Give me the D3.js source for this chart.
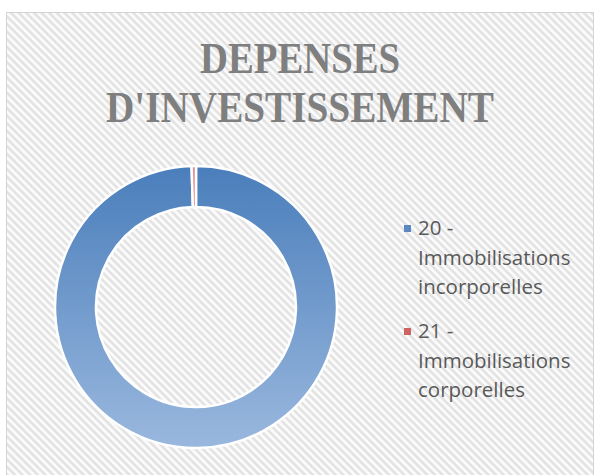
<!DOCTYPE html>
<html><head><meta charset="utf-8">
<script src="https://cdn.jsdelivr.net/npm/d3@7"></script>
<style>html,body{margin:0;padding:0;background:#fff;}svg{display:block;}</style>
</head><body>
<script>
const titleLines = ["DEPENSES", "D'INVESTISSEMENT"];
const categories = ["20 - Immobilisations incorporelles", "21 - Immobilisations corporelles"];
const legendLines = [["20 -", "Immobilisations", "incorporelles"], ["21 -", "Immobilisations", "corporelles"]];
const values = [99.5, 0.5];

const W = 600, H = 475;
const svg = d3.select("body").append("svg").attr("width", W).attr("height", H);
const defs = svg.append("defs");

const pat = defs.append("pattern").attr("id", "hatch").attr("patternUnits", "userSpaceOnUse")
  .attr("width", 5.4).attr("height", 5.4).attr("patternTransform", "rotate(45)");
pat.append("rect").attr("width", 5.4).attr("height", 5.4).attr("fill", "#fbfbfb");
pat.append("rect").attr("width", 5.4).attr("height", 2.5).attr("fill", "#e2e2e2");

const cx = 196, cy = 307, rOuter = 141, rInner = 100;

const g1 = defs.append("linearGradient").attr("id", "gBlue").attr("gradientUnits", "userSpaceOnUse")
  .attr("x1", 0).attr("y1", -rOuter).attr("x2", 0).attr("y2", rOuter);
g1.append("stop").attr("offset", "0").attr("stop-color", "#4a7ebb");
g1.append("stop").attr("offset", "1").attr("stop-color", "#9ab8de");
const g2 = defs.append("linearGradient").attr("id", "gRed").attr("gradientUnits", "userSpaceOnUse")
  .attr("x1", 0).attr("y1", -rOuter).attr("x2", 0).attr("y2", rOuter);
g2.append("stop").attr("offset", "0").attr("stop-color", "#e08a88");
g2.append("stop").attr("offset", "1").attr("stop-color", "#e0a09e");

svg.append("rect").attr("x", 6.5).attr("y", 12.5).attr("width", 587).attr("height", 480)
  .attr("fill", "url(#hatch)").attr("stroke", "#d4d4d4").attr("stroke-width", 1);

// Title
svg.selectAll("text.title").data(titleLines).join("text")
  .attr("class", "title")
  .attr("x", 300).attr("y", (d, i) => 73 + i * 49)
  .attr("text-anchor", "middle")
  .attr("font-family", "'Liberation Serif', 'DejaVu Serif', serif")
  .attr("font-weight", "bold").attr("font-size", 44)
  .attr("fill", "#7f7f7f")
  .attr("textLength", (d, i) => i === 0 ? 200 : 388)
  .attr("lengthAdjust", "spacingAndGlyphs")
  .text(d => d);

// Donut
const pie = d3.pie().sort(null).value(d => d)(values);
const arc = d3.arc().innerRadius(rInner).outerRadius(rOuter);
const fills = ["url(#gBlue)", "url(#gRed)"];
svg.append("g").attr("transform", `translate(${cx},${cy})`)
  .selectAll("path").data(pie).join("path")
  .attr("d", arc)
  .attr("fill", (d, i) => fills[i])
  .attr("stroke", "#ffffff").attr("stroke-width", 2.5);

// Legend
const markerColors = ["#5b88c2", "#cc6462"];
const legend = svg.append("g");
const entryY = [235, 338];
legendLines.forEach((lines, i) => {
  legend.append("rect").attr("x", 404).attr("y", entryY[i] - 10).attr("width", 7).attr("height", 7)
    .attr("fill", markerColors[i]);
  legend.append("text")
    .attr("x", 418).attr("y", entryY[i])
    .attr("font-family", "'Open Sans', sans-serif").attr("font-size", 20.5)
    .attr("fill", "#595959")
    .selectAll("tspan").data(lines).join("tspan")
    .attr("x", 418).attr("dy", (d, j) => j === 0 ? 0 : 29.5)
    .text(d => d);
});
</script>
</body></html>
